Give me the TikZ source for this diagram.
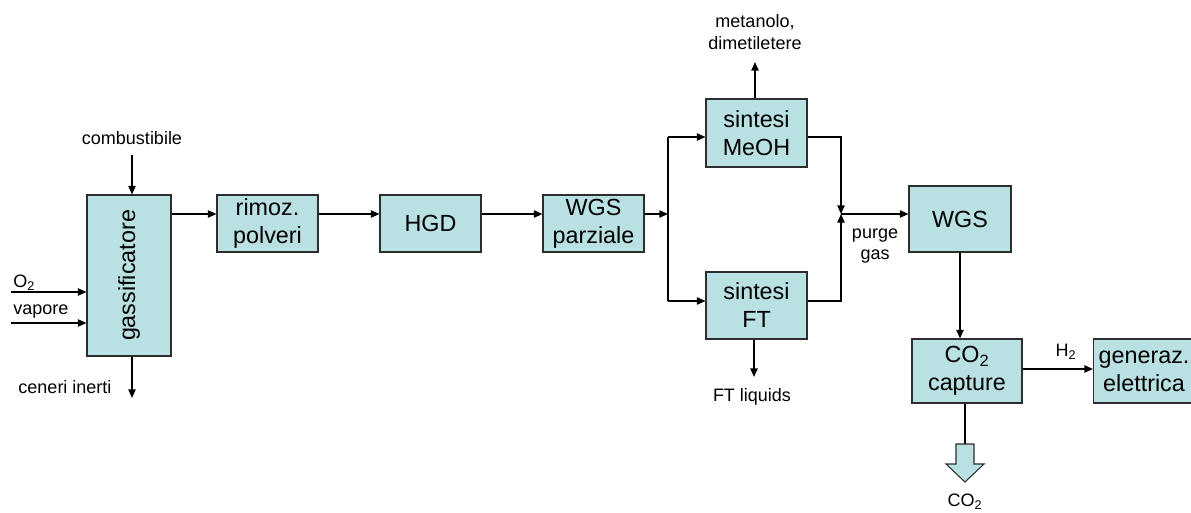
\documentclass[tikz,border=0pt]{standalone}
\usepackage{fontspec}
\setmainfont{Liberation Sans}
\usetikzlibrary{arrows.meta}
\definecolor{boxfill}{RGB}{185,224,226}
\definecolor{boxline}{RGB}{45,45,45}
\tikzset{
  unit/.style={draw=boxline, line width=0.8pt, fill=boxfill, inner sep=0pt, font=\fontsize{17.5}{21}\selectfont, align=center},
  lbl/.style={inner sep=0pt, font=\fontsize{13.5}{16.3}\selectfont, align=center},
  flow/.style={line width=1.1pt, -{Triangle[length=6.5pt,width=5.5pt]}},
  plain/.style={line width=1.1pt},
  fat/.style={draw=boxline, line width=0.8pt, fill=boxfill}
}
\begin{document}
\begin{tikzpicture}[x=0.75pt,y=-0.75pt]
\useasboundingbox (0,0) rectangle (1191,513);
\clip (0,0) rectangle (1191,513);
% boxes
\node[unit, minimum width=84*0.75pt, minimum height=161*0.75pt] (gas) at (129,275.5) {\rotatebox{90}{gassificatore}};
\node[unit, minimum width=101*0.75pt, minimum height=57*0.75pt] (rim) at (267.5,223.5) {rimoz.\\polveri};
\node[unit, minimum width=101*0.75pt, minimum height=57*0.75pt] (hgd) at (430.5,223.5) {HGD};
\node[unit, minimum width=101*0.75pt, minimum height=57*0.75pt] (wgsp) at (593.5,223.5) {WGS\\parziale};
\node[unit, minimum width=101*0.75pt, minimum height=68*0.75pt] (meoh) at (756.5,133) {sintesi\\MeOH};
\node[unit, minimum width=101*0.75pt, minimum height=67*0.75pt] (ft) at (756.5,305.5) {sintesi\\FT};
\node[unit, minimum width=102*0.75pt, minimum height=66*0.75pt] (wgs) at (960,219) {WGS};
\node[unit, minimum width=110*0.75pt, minimum height=64*0.75pt] (cap) at (967,371) {CO\textsubscript{2}\\capture};
\node[unit, minimum width=101*0.75pt, minimum height=64*0.75pt] (gen) at (1144,371) {generaz.\\elettrica};
% labels
\node[lbl] (comb) at (132,138) {combustibile};
\node[lbl, anchor=west] (o2) at (13,283) {O\textsubscript{2}};
\node[lbl, anchor=west] (vap) at (13,312) {vapore};
\node[lbl] (cen) at (65,387) {ceneri inerti};
\node[lbl] (met) at (755,32) {metanolo,\\dimetiletere};
\node[lbl] (ftl) at (752,397) {FT liquids};
\node[lbl] (purge) at (875,246) {purge\\gas};
\node[lbl] (h2) at (1066,352) {H\textsubscript{2}};
\node[lbl] (co2) at (965,502) {CO\textsubscript{2}};
% coordinates
\coordinate (combS) at (132,155);
\coordinate (o2W) at (11,292);
\coordinate (vapW) at (11,323);
\coordinate (cenE) at (132,398);
\coordinate (split) at (668,214);
\coordinate (splitT) at (668,137);
\coordinate (splitB) at (668,301);
\coordinate (metE) at (755,62);
\coordinate (ftlE) at (754,377);
\coordinate (jn) at (841,214);
\coordinate (co2S) at (965,444);
% connectors
\draw[flow] (combS) -- (gas.north -| combS);
\draw[flow] (o2W) -- (gas.west |- o2W);
\draw[flow] (vapW) -- (gas.west |- vapW);
\draw[flow] (gas.south -| cenE) -- (cenE);
\draw[flow] (gas.east |- 0,214) -- (rim.west |- 0,214);
\draw[flow] (rim.east |- 0,214) -- (hgd.west |- 0,214);
\draw[flow] (hgd.east |- 0,214) -- (wgsp.west |- 0,214);
\draw[flow] (wgsp.east |- 0,214) -- (split);
\draw[plain] (splitT) -- (splitB);
\draw[flow] (splitT) -- (meoh.west |- splitT);
\draw[flow] (splitB) -- (ft.west |- splitB);
\draw[flow] (meoh.north -| metE) -- (metE);
\draw[flow] (ft.south -| ftlE) -- (ftlE);
\draw[flow] (meoh.east |- splitT) -| (jn);
\draw[flow] (ft.east |- splitB) -| (jn);
\draw[flow] (jn) -- (wgs.west |- jn);
\draw[flow] (wgs.south) -- (wgs.south |- cap.north);
\draw[flow] (cap.east |- 0,369) -- (gen.west |- 0,369);
\draw[plain] (cap.south -| co2S) -- (co2S);
\draw[fat] (956,444) -- (974,444) -- (974,464) -- (984,464) -- (965,482) -- (946,464) -- (956,464) -- cycle;
\end{tikzpicture}
\end{document}
